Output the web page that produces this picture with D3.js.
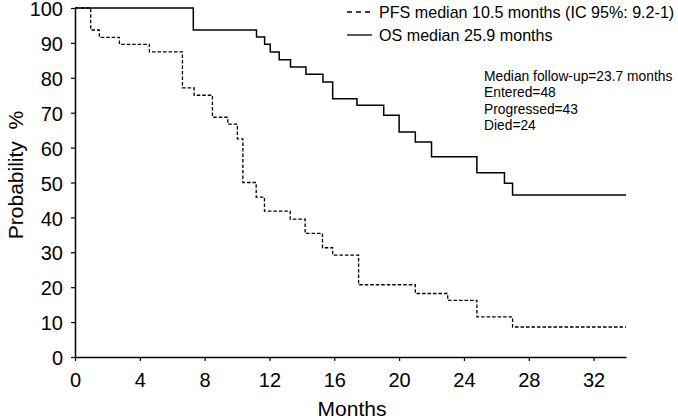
<!DOCTYPE html>
<html>
<head>
<meta charset="utf-8">
<script src="https://cdn.jsdelivr.net/npm/d3@7"></script>
<style>
  body { margin: 0; background: #fff; }
  svg { display: block; font-family: "Liberation Sans", Arial, sans-serif; }
</style>
</head>
<body>
<svg id="chart" width="678" height="419"></svg>
<script>
// Kaplan-Meier curves, values
var pfsMonths = [0, 0.97, 1.5, 2.74, 4.59, 6.63, 7.35, 8.48, 9.43, 10.02, 10.36, 11.18, 11.69, 13.28, 14.2, 15.27, 15.9, 17.5, 21.0, 23.0, 24.8, 27.0];
var pfsProb   = [100, 93.7, 91.6, 89.6, 87.4, 77.1, 75.0, 68.7, 66.7, 62.5, 50.0, 45.8, 41.8, 39.5, 35.4, 31.3, 29.2, 20.7, 18.2, 16.2, 11.5, 8.6];
var osMonths  = [0, 7.3, 11.2, 11.7, 12.05, 12.6, 13.3, 14.25, 15.3, 15.9, 17.4, 19.05, 20.0, 21.0, 22.0, 24.8, 26.5, 27.0];
var osProb    = [100, 93.7, 91.7, 89.6, 87.4, 85.2, 83.1, 81.0, 78.8, 74.0, 72.1, 69.3, 64.5, 61.6, 57.4, 52.8, 49.8, 46.4];
var lastMonth = 34;

var xTicks = [0, 4, 8, 12, 16, 20, 24, 28, 32];
var yTicks = [0, 10, 20, 30, 40, 50, 60, 70, 80, 90, 100];

var legendLabels = ["PFS median 10.5 months (IC 95%: 9.2-1)", "OS median 25.9 months"];
var notes = ["Median follow-up=23.7 months", "Entered=48", "Progressed=43", "Died=24"];

var svg = d3.select("#chart");
var x = d3.scaleLinear().domain([0, 34]).range([75, 626]);
var y = d3.scaleLinear().domain([0, 100]).range([357, 8]);

function toPoints(months, prob) {
    var pts = months.map(function(m, i) { return [m, prob[i]]; });
    pts.push([lastMonth, prob[prob.length - 1]]);
    return pts;
}

var line = d3.line()
    .x(function(d) { return x(d[0]); })
    .y(function(d) { return y(d[1]); })
    .curve(d3.curveStepAfter);

// axes
var xAxis = svg.append("g")
    .attr("transform", "translate(0,357)")
    .call(d3.axisBottom(x).tickValues(xTicks).tickSize(4).tickPadding(4).tickSizeOuter(0));
var yAxis = svg.append("g")
    .attr("transform", "translate(75,0)")
    .call(d3.axisLeft(y).tickValues(yTicks).tickSize(4).tickPadding(8).tickSizeOuter(0));

[xAxis, yAxis].forEach(function(g) {
    g.select(".domain").attr("stroke", "#000").attr("stroke-width", 1.5);
    g.selectAll(".tick line").attr("stroke", "#000").attr("stroke-width", 1.2);
    g.selectAll(".tick text").attr("fill", "#000").style("font-size", "20px")
        .style("font-family", "'Liberation Sans', Arial, sans-serif");
});
xAxis.selectAll(".tick text").attr("dy", "1.1em");
yAxis.selectAll(".tick text").attr("dy", "0.38em");

svg.append("text")
    .attr("x", 352).attr("y", 416)
    .attr("text-anchor", "middle")
    .style("font-size", "21px")
    .text("Months");

svg.append("text")
    .attr("transform", "translate(23,175) rotate(-90)")
    .attr("text-anchor", "middle")
    .style("font-size", "21px")
    .style("white-space", "pre")
    .text("Probability  %");

// curves
svg.append("path")
    .datum(toPoints(osMonths, osProb))
    .attr("d", line)
    .attr("fill", "none")
    .attr("stroke", "#000")
    .attr("stroke-width", 1.5);

svg.append("path")
    .datum(toPoints(pfsMonths, pfsProb))
    .attr("d", line)
    .attr("fill", "none")
    .attr("stroke", "#000")
    .attr("stroke-width", 1.3)
    .attr("stroke-dasharray", "3.5,2");

// legend
var legend = svg.append("g");
legendLabels.forEach(function(t, i) {
    var ly = 12 + i * 23;
    legend.append("line")
        .attr("x1", 347).attr("x2", 372)
        .attr("y1", ly).attr("y2", ly)
        .attr("stroke", "#000")
        .attr("stroke-width", 1.3)
        .attr("stroke-dasharray", i == 0 ? "5,4" : null);
    legend.append("text")
        .attr("x", 379).attr("y", ly + 5.5)
        .style("font-size", "16.1px")
        .text(t);
});

// notes
svg.selectAll(".note")
    .data(notes)
    .enter().append("text")
    .attr("class", "note")
    .attr("x", 484)
    .attr("y", function(d, i) { return 81 + i * 16.3; })
    .style("font-size", "13.8px")
    .text(function(d) { return d; });
</script>
</body>
</html>
